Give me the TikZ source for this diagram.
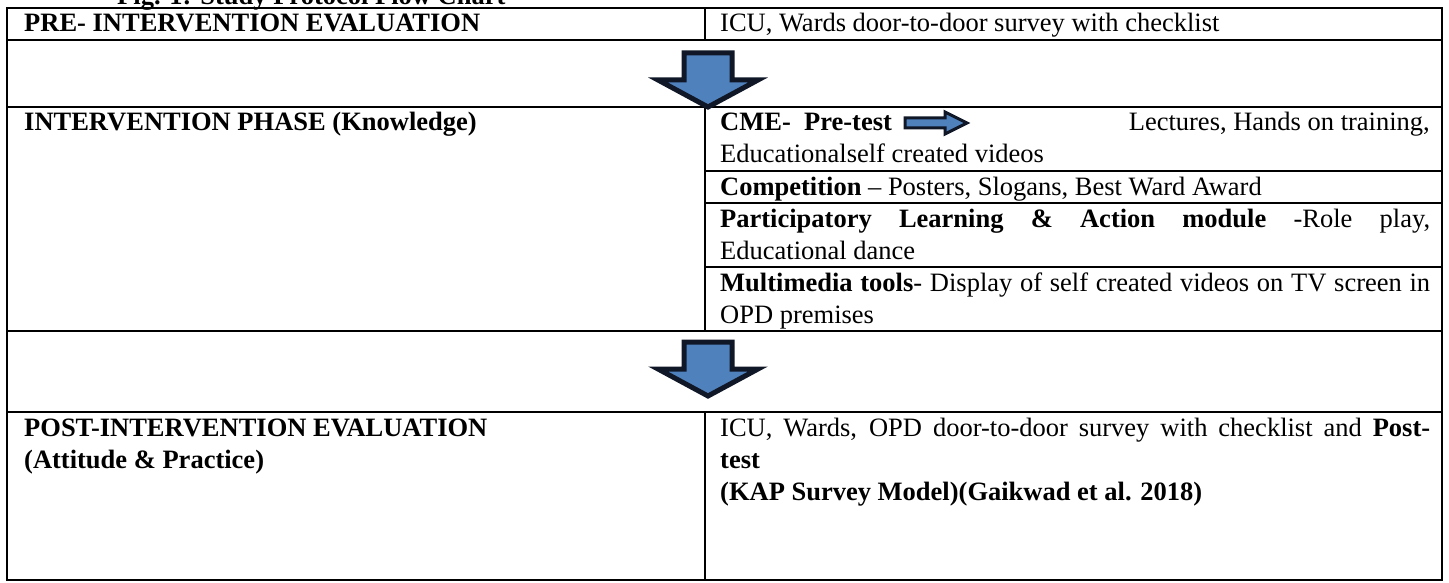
\documentclass[tikz,border=0pt]{standalone}
\usepackage{fontspec}
\setmainfont{Liberation Serif}
\definecolor{arrowblue}{RGB}{79,129,189}
\definecolor{arrowedge}{RGB}{16,24,40}

\begin{document}
\begin{tikzpicture}[
          x = 1pt, y = -1pt,
      lbl/.style = {anchor=base west, inner sep=0pt, font=\fontsize{26.5}{32}\selectfont},
     lblr/.style = {anchor=base east, inner sep=0pt, font=\fontsize{26.5}{32}\selectfont},
     grid/.style = {line width=2pt},
    block/.style = {fill=arrowblue, draw=arrowedge, line width=5pt, line join=miter},
pics/downarrow/.style = {code={\draw[block] (-24,-54) -- (24,-54) -- (24,-27) -- (50,-27) -- (0,0) -- (-50,-27) -- (-24,-27) -- cycle;}},
pics/rightarrow/.style = {code={\draw[block,line width=3pt] (-62,-5) -- (-22,-5) -- (-22,-11) -- (0,0) -- (-22,11) -- (-22,5) -- (-62,5) -- cycle;}}
                    ]
\useasboundingbox (0,0) rectangle (1449,583);

\node[lbl] (title) at (117,5) {\bfseries Fig. 1: Study Protocol Flow Chart};

\draw[grid] (7,8) rectangle (1442,580);
\foreach \y in {40,107,331,412}
    \draw[grid] (7,\y) -- (1442,\y);
\foreach \y in {171,203,267}
    \draw[grid] (705,\y) -- (1442,\y);
\draw[grid] (705,8) -- (705,40);
\draw[grid] (705,107) -- (705,331);
\draw[grid] (705,412) -- (705,580);

\node[lbl] (pre) at (24,32) {\bfseries PRE- INTERVENTION EVALUATION};
\node[lbl] (preR) at (720,32) {ICU, Wards door-to-door survey with checklist};

\node[lbl] (int) at (24,131) {\bfseries INTERVENTION PHASE (Knowledge)};
\node[lbl] (cme) at (720,131) {\textbf{CME-}\ \ \textbf{Pre-test}};
\node[lblr] (lect) at (1430,131) {Lectures, Hands on training,};
\node[lbl] (cme2) at (720,163) {Educationalself created videos};
\node[lbl] (comp) at (720,195) {\textbf{Competition} -- Posters, Slogans, Best Ward Award};
\node[lbl] (pla) at (720,227) {\makebox[710pt][s]{\textbf{Participatory Learning \& Action module} -Role play,}};
\node[lbl] (pla2) at (720,259) {Educational dance};
\node[lbl] (mm) at (720,291) {\makebox[710pt][s]{\textbf{Multimedia tools}- Display of self created videos on TV screen in}};
\node[lbl] (mm2) at (720,323) {OPD premises};

\node[lbl] (post) at (24,436) {\bfseries POST-INTERVENTION EVALUATION};
\node[lbl] (post2) at (24,468) {\bfseries (Attitude \& Practice)};
\node[lbl] (postR) at (720,436) {\makebox[710pt][s]{ICU, Wards, OPD door-to-door survey with checklist and \textbf{Post-}}};
\node[lbl] (postR2) at (720,468) {\bfseries test};
\node[lbl] (postR3) at (720,500) {\bfseries (KAP Survey Model)(Gaikwad et al. 2018)};

\pic at (708,107) {downarrow};
\pic at (708,396) {downarrow};
\pic at (967,123) {rightarrow};

\end{tikzpicture}
\end{document}
